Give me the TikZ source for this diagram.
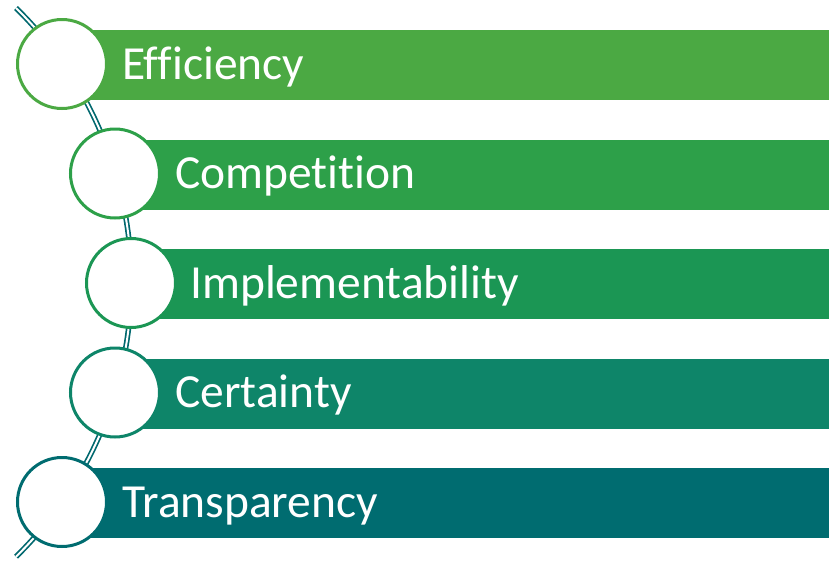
\documentclass[tikz,border=0pt]{standalone}
\usepackage{fontspec}
\setmainfont{Carlito}[Ligatures=CommonOff]
\usetikzlibrary{positioning}
\definecolor{barA}{RGB}{75,169,67}
\definecolor{barB}{RGB}{45,160,73}
\definecolor{barC}{RGB}{27,150,84}
\definecolor{barD}{RGB}{14,133,105}
\definecolor{barE}{RGB}{0,108,112}
\definecolor{spineline}{RGB}{0,104,110}
\begin{document}
\begin{tikzpicture}[x=1pt,y=-1pt,
    bar/.style={fill=#1, draw=none, anchor=west, inner sep=0pt, minimum height=70pt},
    ring/.style={circle, draw=#1, fill=white, line width=3pt, minimum size=89pt, inner sep=0pt},
    caption/.style={text=white, font=\fontsize{47.5}{54}\selectfont, inner sep=0pt, anchor=base west},
    spine/.style={draw=spineline, double=white, double distance=2pt, line width=1.7pt}]

        \useasboundingbox (0,0) rectangle (831,563);

        % the spine behind the rings
        \coordinate (top) at (16,8);
        \draw[spine] (top) arc[start angle=-45.6, end angle=45.6, radius=384];

        % bars
        \node[bar=barA, minimum width=767pt] (b1) at (62,65) {};
        \node[bar=barB, minimum width=714pt] (b2) at (115,174.5) {};
        \node[bar=barC, minimum width=698pt] (b3) at (131,284) {};
        \node[bar=barD, minimum width=714pt] (b4) at (115,393.5) {};
        \node[bar=barE, minimum width=767pt] (b5) at (62,503) {};

        % rings
        \node[ring=barA] (c1) at (62,64) {};
        \node[ring=barB] (c2) at (115,173.5) {};
        \node[ring=barC] (c3) at (131,283) {};
        \node[ring=barD] (c4) at (115,392.5) {};
        \node[ring=barE] (c5) at (62,502) {};

        % text labels
        \node[caption] (t1) at (122,79) {Efficiency};
        \node[caption] (t2) at (175,188.5) {Competition};
        \node[caption] (t3) at (190,298) {Implementability};
        \node[caption] (t4) at (175,407.5) {Certainty};
        \node[caption] (t5) at (122,517) {Transparency};
    \end{tikzpicture}
\end{document}
